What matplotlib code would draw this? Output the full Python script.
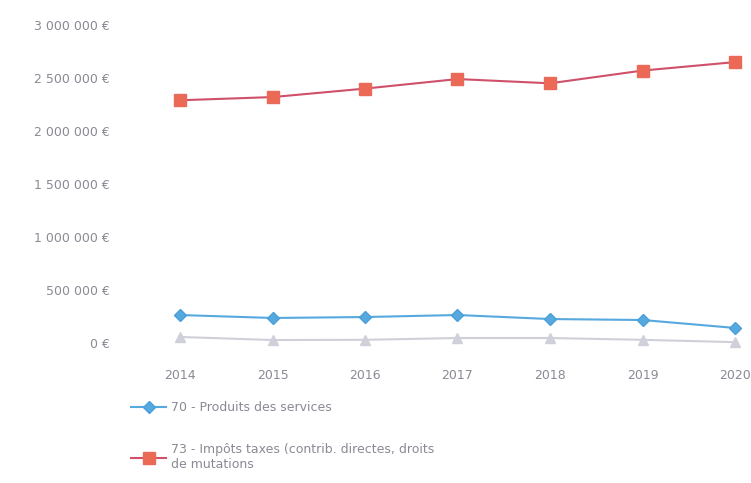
import matplotlib
matplotlib.use("Agg")
import matplotlib.pyplot as plt

years = ["2014", "2015", "2016", "2017", "2018", "2019", "2020"]
produits_services = [264000, 236000, 245000, 264000, 226000, 217000, 142000]
impots_taxes = [2290000, 2320000, 2400000, 2490000, 2450000, 2570000, 2650000]
autre_serie = [57000, 28000, 30000, 47000, 47000, 30000, 8000]

label_services = "70 - Produits des services"
label_impots = "73 - Impôts taxes (contrib. directes, droits\nde mutations"

yticks = [0, 500000, 1000000, 1500000, 2000000, 2500000, 3000000]
yticklabels = ["0 €", "500 000 €", "1 000 000 €", "1 500 000 €",
               "2 000 000 €", "2 500 000 €", "3 000 000 €"]

W, H = 751, 483
fig = plt.figure(figsize=(W / 100, H / 100), dpi=100)
left_px, right_px, top_px, bottom_px = 135, 750, 20, 350
ax = fig.add_axes([left_px / W, 1 - bottom_px / H,
                   (right_px - left_px) / W, (bottom_px - top_px) / H])

x = list(range(len(years)))
l1, = ax.plot(x, produits_services, color="#55a9de", marker="D", markersize=6,
              linewidth=1.5, markeredgecolor="#4a9fd8", label=label_services)
l2, = ax.plot(x, impots_taxes, color="#d0506a", marker="s", markersize=8,
              linewidth=1.5, markerfacecolor="#ec6a55", markeredgecolor="#e86a5a",
              label=label_impots)
l3, = ax.plot(x, autre_serie, color="#d0d0da", marker="^", markersize=7,
              linewidth=1.5, markeredgecolor="#d0d0da")

pxu = (735 - 180) / 6
ax.set_xlim(-(180 - left_px) / pxu, 6 + (right_px - 735) / pxu)
ppm = (343 - 25) / 3000000
ax.set_ylim(-(bottom_px - 343) / ppm, 3000000 + (25 - top_px) / ppm)

ax.set_xticks(x)
ax.set_xticklabels(years)
ax.set_yticks(yticks)
ax.set_yticklabels(yticklabels)
ax.tick_params(axis="both", length=0, labelsize=9, labelcolor="#8a8a95")
ax.tick_params(axis="y", pad=18)
ax.tick_params(axis="x", pad=14)
for s in ax.spines.values():
    s.set_visible(False)

leg = fig.legend(handles=[l1, l2], loc="upper left",
                 bbox_to_anchor=(120 / W, 1 - 390 / H), frameon=False,
                 fontsize=9, labelcolor="#8a8a95", handlelength=2.8,
                 labelspacing=2.3, handletextpad=0.4, alignment="left")

fig.savefig("out.png", dpi=100)
